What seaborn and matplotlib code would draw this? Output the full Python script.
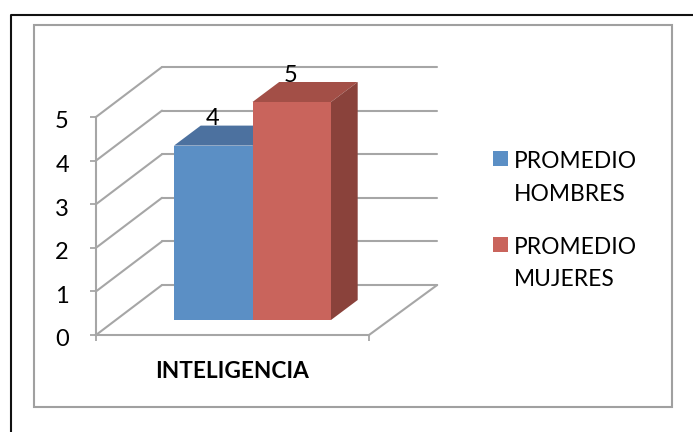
"""
plot.py  –  Excel style 3D column chart, drawn with seaborn bars plus projected faces.
"""
import matplotlib
matplotlib.use("Agg")
import matplotlib.pyplot as plt
from matplotlib.patches import Polygon, Rectangle
from matplotlib.lines import Line2D
from matplotlib.transforms import Affine2D
import pandas as pd
import seaborn as sns

categories = ["INTELIGENCIA"]
series = ["PROMEDIO\nHOMBRES", "PROMEDIO\nMUJERES"]
values = [4, 5]
y_ticks = [0, 1, 2, 3, 4, 5]

FRONT_COLORS = ["#5B8FC5", "#C9645C"]
TOP_COLORS = ["#4C719F", "#A34F47"]
SIDE_COLORS = ["#3F5F86", "#8A423B"]
GRID = "#A6A6A6"
W, H = 693, 432


def rect(left, top, right, bottom):
    # pixel box (y down) -> figure fraction
    return [left / W, 1 - bottom / H, (right - left) / W, (bottom - top) / H]


sns.set_theme(style="white")
plt.rcParams["font.family"] = ["Lato", "DejaVu Sans"]

fig = plt.figure(figsize=(W / 100, H / 100), dpi=100)
# outer frame runs off the picture on the right and at the bottom
fig.add_artist(Line2D([10.5 / W, 10.5 / W, 1], [0, 1 - 14.5 / H, 1 - 14.5 / H],
                      transform=fig.transFigure, color="#111111", lw=1.5))
fig.add_artist(Rectangle((34 / W, 1 - 407 / H), 638 / W, 382 / H, transform=fig.transFigure,
                         fill=False, ec="#A0A0A0", lw=1.5))

# front plane of the box: carries the axis, ticks and labels
ax_front = fig.add_axes(rect(96, 117, 369, 335), facecolor="none")
ax_front.set_xlim(0, 1)
ax_front.set_ylim(y_ticks[0], y_ticks[-1])
ax_front.set_yticks(y_ticks)
ax_front.set_xticks([0, 1], ["", ""])
ax_front.tick_params(axis="both", length=4.5, width=1.3, color=GRID, direction="out",
                     left=True, bottom=True, labelsize=17, labelcolor="black")
ax_front.tick_params(axis="y", pad=15)
ax_front.set_xlabel(categories[0], fontsize=16.3, fontweight="bold", color="black", labelpad=11)
for name, spine in ax_front.spines.items():
    spine.set_visible(name in ("left", "bottom"))
    spine.set_color(GRID)
    spine.set_linewidth(1.5)
# labels sit a little under their ticks
for label in ax_front.get_yticklabels():
    label.set_transform(label.get_transform() + Affine2D().translate(0, -3))


def shift(ax, dx, dy):
    # data coords on ax, moved by pixels (y up)
    return ax.transData + Affine2D().translate(dx, dy)


# walls and floor
back = shift(ax_front, 66, 50)
BACK_RIGHT = 1.008
for tick in y_ticks:
    ax_front.add_line(Line2D([0, BACK_RIGHT], [tick, tick], transform=back, color=GRID, lw=1.5,
                             clip_on=False, zorder=1))
    x0, y0 = ax_front.transData.transform((0, tick))
    x1, y1 = back.transform((0, tick))
    fig.add_artist(Line2D([x0 / W, x1 / W], [y0 / H, y1 / H], transform=fig.transFigure,
                          color=GRID, lw=1.5))
x0, y0 = ax_front.transData.transform((1, 0))
x1, y1 = back.transform((BACK_RIGHT, 0))
fig.add_artist(Line2D([x0 / W, x1 / W], [y0 / H, y1 / H], transform=fig.transFigure,
                      color=GRID, lw=1.5))

# front plane of the bars
ax = fig.add_axes(rect(116, 102, 389, 320), facecolor="none")
df = pd.DataFrame({"cat": categories * len(series), "serie": series, "valor": values})
sns.barplot(data=df, x="cat", y="valor", hue="serie", hue_order=series, palette=FRONT_COLORS,
            width=0.575, gap=0, saturation=1, linewidth=0, ax=ax, zorder=3)
ax.set_xlim(-0.5, 0.5)
ax.set_ylim(y_ticks[0], y_ticks[-1])
ax.set_axis_off()

DX, DY = 26.7, 20
depth = Affine2D().translate(DX, DY)
for i, cont in enumerate(ax.containers):
    bar = cont[0]
    xl, xr = bar.get_x(), bar.get_x() + bar.get_width()
    top = bar.get_height()
    pts = [ax.transData.transform(p) for p in [(xl, top), (xr, top), (xr, 0)]]
    tl, tr, br = pts
    tl2, tr2, br2 = depth.transform(tl), depth.transform(tr), depth.transform(br)
    ax.add_patch(Polygon([tl, tr, tr2, tl2], closed=True, transform=None, fc=TOP_COLORS[i],
                         ec="none", zorder=2, clip_on=False))
    ax.add_patch(Polygon([tr, br, br2, tr2], closed=True, transform=None, fc=SIDE_COLORS[i],
                         ec="none", zorder=2, clip_on=False))
    ax.annotate(str(values[i]), ((xl + xr) / 2, top), xytext=(-1, 27), textcoords="offset pixels",
                ha="center", va="center", fontsize=17, color="black", zorder=5,
                annotation_clip=False)

handles, labels = ax.get_legend_handles_labels()
leg = ax.legend(handles, labels, loc="upper left", bbox_to_anchor=(493 / W, 1 - 151 / H),
                bbox_transform=fig.transFigure, frameon=False, fontsize=16.4, handlelength=0.66,
                handleheight=0.66, handletextpad=0.24, labelspacing=1.42, borderpad=0,
                borderaxespad=0, labelcolor="black")
for text in leg.get_texts():
    text.set_linespacing(1.68)
# swatch sits beside the first line of its label, not the middle of both
for handle in leg.legend_handles:
    handle.set_y(handle.get_y() + 14.3)

fig.savefig("out.png", dpi=100)
